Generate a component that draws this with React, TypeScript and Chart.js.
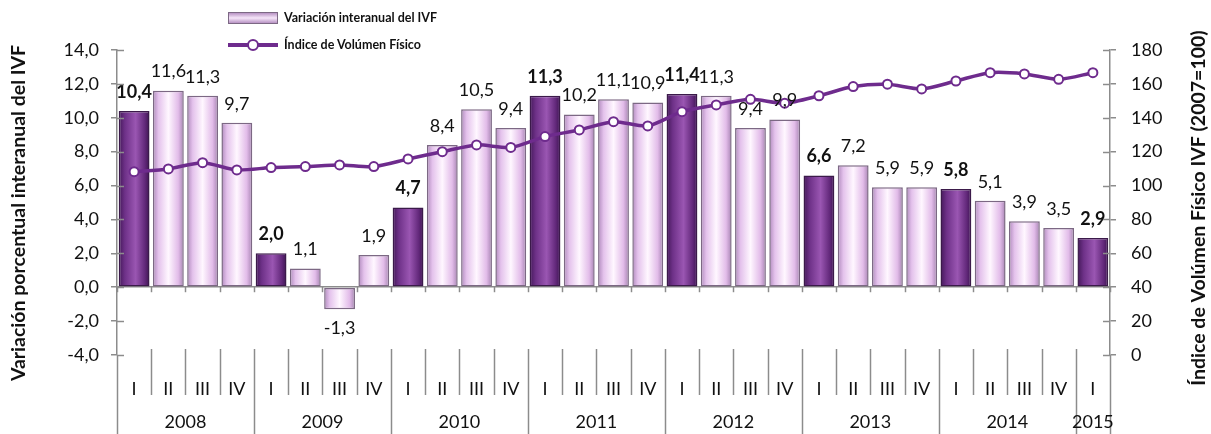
import React, { useEffect, useRef } from "react";
import { Chart, registerables } from "chart.js";

Chart.register(...registerables);

const quarters = [
  "I", "II", "III", "IV", "I", "II", "III", "IV", "I", "II", "III", "IV",
  "I", "II", "III", "IV", "I", "II", "III", "IV", "I", "II", "III", "IV",
  "I", "II", "III", "IV", "I",
];
const years = ["2008", "2009", "2010", "2011", "2012", "2013", "2014", "2015"];
const quartersPerYear = [4, 4, 4, 4, 4, 4, 4, 1];

const variacion = [
  10.4, 11.6, 11.3, 9.7, 2.0, 1.1, -1.3, 1.9, 4.7, 8.4, 10.5, 9.4,
  11.3, 10.2, 11.1, 10.9, 11.4, 11.3, 9.4, 9.9, 6.6, 7.2, 5.9, 5.9,
  5.8, 5.1, 3.9, 3.5, 2.9,
];
const indiceIVF = [
  108.2, 109.8, 113.5, 109.2, 110.6, 111.2, 112.2, 111.2, 115.7, 120.0, 124.0, 122.5,
  128.9, 132.8, 137.7, 135.2, 143.6, 147.6, 150.9, 148.6, 153.0, 158.4, 159.8, 157.0,
  161.7, 166.6, 165.9, 162.7, 166.6,
];

const leftTicks = [-4, -2, 0, 2, 4, 6, 8, 10, 12, 14];
const rightTicks = [0, 20, 40, 60, 80, 100, 120, 140, 160, 180];

const leftTitle = "Variación porcentual interanual del IVF";
const rightTitle = "Índice de Volúmen Físico IVF (2007=100)";

const FONT = "Lato, 'Open Sans', sans-serif";
const AXIS_GRAY = "#8c8c8c";
const LINE_COLOR = "#6e2b8d";
const BAR_PCT = 0.9;

const fmt = (v: number, d: number) => v.toFixed(d).replace(".", ",");

function barGradient(ctx: any) {
  const chart = ctx.chart;
  const xs = chart.scales && chart.scales.x;
  const i = ctx.dataIndex;
  const dark = quarters[i] === "I";
  if (!xs || ctx.type !== "data" || xs.width == null) return dark ? "#7a3a93" : "#f0d8f4";
  const cx = xs.getPixelForValue(i);
  const w = (xs.width / quarters.length) * BAR_PCT;
  const g = chart.ctx.createLinearGradient(cx - w / 2, 0, cx + w / 2, 0);
  if (dark) {
    g.addColorStop(0, "#431858");
    g.addColorStop(0.2, "#6e3188");
    g.addColorStop(0.55, "#9a56b2");
    g.addColorStop(0.85, "#62287a");
    g.addColorStop(1, "#3c1450");
  } else {
    g.addColorStop(0, "#b08abd");
    g.addColorStop(0.18, "#e4c2ec");
    g.addColorStop(0.5, "#fff7ff");
    g.addColorStop(0.82, "#e2bce9");
    g.addColorStop(1, "#a683b2");
  }
  return g;
}

const decorPlugin = {
  id: "decor",
  afterDatasetsDraw(chart: any) {
    const ctx = chart.ctx;
    const meta = chart.getDatasetMeta(1);
    ctx.save();
    ctx.fillStyle = "#111";
    ctx.textAlign = "center";
    ctx.textBaseline = "middle";
    meta.data.forEach((el: any, i: number) => {
      const v = variacion[i];
      const bold = quarters[i] === "I";
      ctx.font = `${bold ? "bold " : ""}18px ${FONT}`;
      const y = v >= 0 ? el.y - 19 : el.y + 19;
      ctx.fillText(fmt(v, 1), el.x, y);
    });
    ctx.restore();
  },
  afterDraw(chart: any) {
    const ctx = chart.ctx;
    const xs = chart.scales.x;
    const ys = chart.scales.y;
    const y1 = chart.scales.y1;
    const { left, right, bottom } = chart.chartArea;
    const n = quarters.length;
    const bx = (b: number) =>
      b === 0 ? left : b === n ? right : (xs.getPixelForValue(b - 1) + xs.getPixelForValue(b)) / 2;
    const yearStarts = new Set<number>();
    let acc = 0;
    quartersPerYear.forEach((c) => {
      yearStarts.add(acc);
      acc += c;
    });
    yearStarts.add(n);
    ctx.save();
    ctx.strokeStyle = AXIS_GRAY;
    ctx.lineWidth = 1.5;
    const y0 = ys.getPixelForValue(0);
    for (let b = 0; b <= n; b++) {
      const x = Math.round(bx(b)) + 0.5;
      ctx.beginPath();
      if (b === 0 || b === n) {
        ctx.moveTo(x, bottom);
        ctx.lineTo(x, chart.height);
      } else if (yearStarts.has(b)) {
        ctx.moveTo(x, bottom - 6);
        ctx.lineTo(x, chart.height);
      } else {
        ctx.moveTo(x, bottom - 6);
        ctx.lineTo(x, bottom + 40);
      }
      ctx.stroke();
      ctx.beginPath();
      ctx.moveTo(x, y0 - 1);
      ctx.lineTo(x, y0 + 5);
      ctx.stroke();
    }
    leftTicks.forEach((t) => {
      const y = Math.round(ys.getPixelForValue(t)) + 0.5;
      ctx.beginPath();
      ctx.moveTo(left, y);
      ctx.lineTo(left + 7, y);
      ctx.stroke();
    });
    rightTicks.forEach((t) => {
      const y = Math.round(y1.getPixelForValue(t)) + 0.5;
      ctx.beginPath();
      ctx.moveTo(right - 7, y);
      ctx.lineTo(right, y);
      ctx.stroke();
    });
    ctx.fillStyle = "#111";
    ctx.font = `18px ${FONT}`;
    ctx.textAlign = "center";
    ctx.textBaseline = "middle";
    let start = 0;
    years.forEach((yr, k) => {
      const end = start + quartersPerYear[k];
      const cx = (bx(start) + bx(end)) / 2;
      ctx.fillText(yr, cx, 422);
      start = end;
    });
    // axis titles (both read bottom-to-top)
    ctx.font = `bold 19.5px ${FONT}`;
    ctx.save();
    ctx.translate(19, 213);
    ctx.rotate(-Math.PI / 2);
    ctx.fillText(leftTitle, 0, 0);
    ctx.restore();
    ctx.save();
    ctx.translate(1199, 208);
    ctx.rotate(-Math.PI / 2);
    ctx.fillText(rightTitle, 0, 0);
    ctx.restore();
    ctx.restore();
  },
};

export default function App() {
  const canvasRef = useRef<HTMLCanvasElement | null>(null);

  useEffect(() => {
    if (!canvasRef.current) return;
    const chart = new Chart(canvasRef.current, {
      type: "bar",
      data: {
        labels: quarters,
        datasets: [
          {
            type: "line",
            label: "Índice de Volúmen Físico",
            data: indiceIVF,
            yAxisID: "y1",
            borderColor: LINE_COLOR,
            borderWidth: 3.5,
            pointRadius: 4.5,
            pointBorderWidth: 2,
            pointBackgroundColor: "#ffffff",
            pointBorderColor: LINE_COLOR,
            tension: 0.25,
            order: 0,
          } as any,
          {
            type: "bar",
            label: "Variación interanual del IVF",
            data: variacion,
            yAxisID: "y",
            backgroundColor: barGradient,
            borderColor: (c: any) => (quarters[c.dataIndex] === "I" ? "#3b1a4a" : "#7c6884"),
            borderWidth: 1.5,
            borderSkipped: false,
            barPercentage: BAR_PCT,
            categoryPercentage: 1,
            order: 1,
          } as any,
        ],
      },
      options: {
        animation: false,
        responsive: true,
        maintainAspectRatio: false,
        layout: { padding: { top: 50, left: 0, right: 0, bottom: 0 } },
        plugins: {
          legend: { display: false },
          tooltip: { enabled: false },
          title: { display: false },
        },
        scales: {
          x: {
            type: "category",
            position: "bottom",
            offset: true,
            grid: { display: false },
            border: { display: false },
            ticks: {
              color: "#111",
              font: { family: FONT, size: 18 },
              padding: 15,
              autoSkip: false,
              maxRotation: 0,
            },
            afterFit: (s: any) => {
              s.height = 79;
            },
          },
          y: {
            type: "linear",
            position: "left",
            min: -4,
            max: 14,
            afterBuildTicks: (s: any) => {
              s.ticks = leftTicks.map((v) => ({ value: v }));
            },
            ticks: {
              color: "#111",
              font: { family: FONT, size: 18 },
              padding: 12,
              callback: (v: any) => fmt(Number(v), 1),
            },
            grid: {
              drawOnChartArea: true,
              color: (c: any) => (c.tick && c.tick.value === 0 ? AXIS_GRAY : "rgba(0,0,0,0)"),
              tickColor: AXIS_GRAY,
              tickLength: 6,
              lineWidth: 1.5,
            },
            border: { display: true, color: AXIS_GRAY, width: 1.5 },
            afterFit: (s: any) => {
              s.width = 117;
            },
          },
          y1: {
            type: "linear",
            position: "right",
            min: 0,
            max: 180,
            afterBuildTicks: (s: any) => {
              s.ticks = rightTicks.map((v) => ({ value: v }));
            },
            ticks: {
              color: "#111",
              font: { family: FONT, size: 18 },
              padding: 15,
            },
            grid: {
              drawOnChartArea: false,
              tickColor: AXIS_GRAY,
              tickLength: 6,
              lineWidth: 1.5,
            },
            border: { display: true, color: AXIS_GRAY, width: 1.5 },
            afterFit: (s: any) => {
              s.width = 101;
            },
          },
        },
      } as any,
      plugins: [decorPlugin],
    });
    return () => chart.destroy();
  }, []);

  const legendText: React.CSSProperties = {
    position: "absolute",
    left: 284,
    font: `bold 12.5px ${FONT}`,
    color: "#111",
    lineHeight: "16px",
    whiteSpace: "nowrap",
  };

  return (
    <div style={{ position: "fixed", left: 0, top: 0, width: 1211, height: 434, background: "#fff" }}>
      <canvas ref={canvasRef} />
      <div
        style={{
          position: "absolute",
          left: 228,
          top: 12,
          width: 48,
          height: 10,
          border: "1.5px solid #7c6884",
          background: "linear-gradient(to bottom, #b893c4, #f6e6f9 50%, #b893c4)",
        }}
      />
      <div style={{ ...legendText, top: 10 }}>Variación interanual del IVF</div>
      <div
        style={{
          position: "absolute",
          left: 228,
          top: 43,
          width: 50,
          height: 3.5,
          background: LINE_COLOR,
        }}
      />
      <div
        style={{
          position: "absolute",
          left: 247,
          top: 39,
          width: 8,
          height: 8,
          borderRadius: "50%",
          border: `2px solid ${LINE_COLOR}`,
          background: "#fff",
        }}
      />
      <div style={{ ...legendText, top: 37 }}>Índice de Volúmen Físico</div>
    </div>
  );
}
